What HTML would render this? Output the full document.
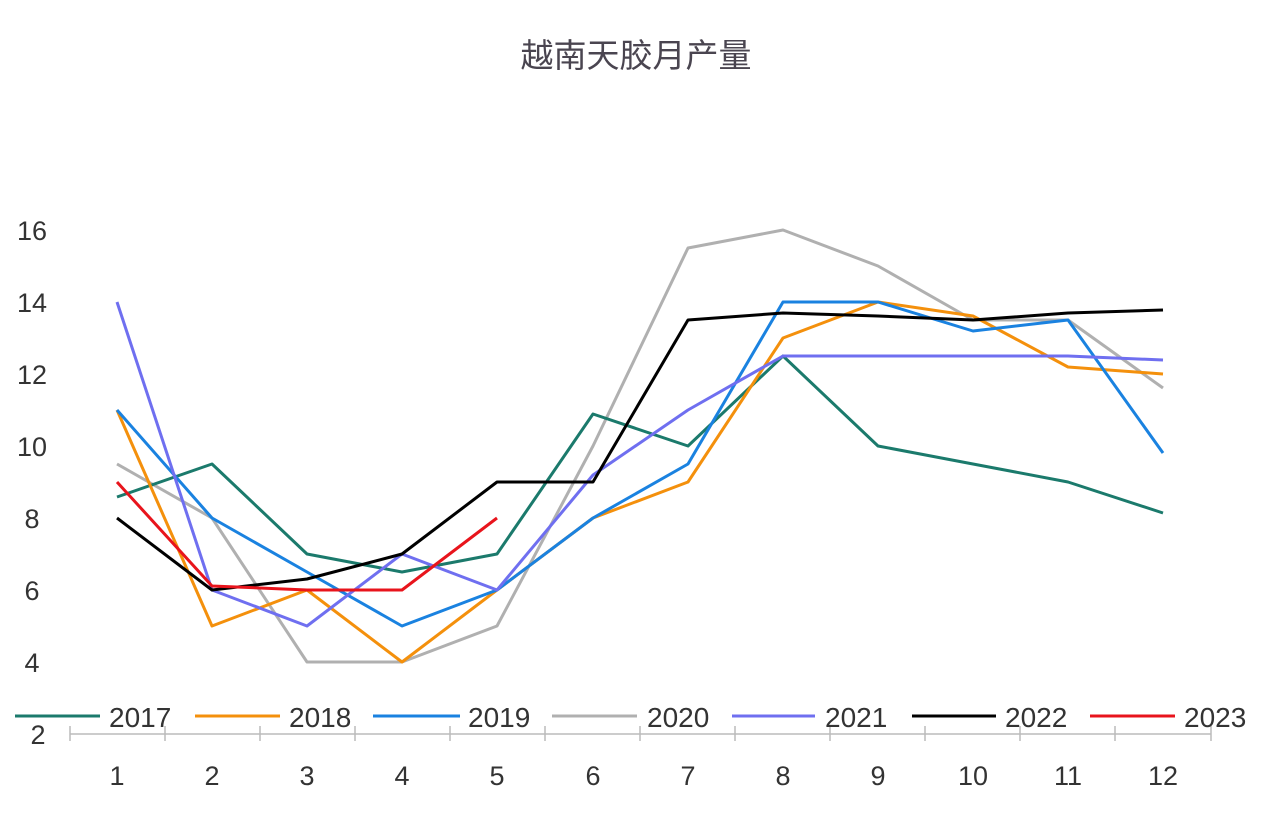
<!DOCTYPE html>
<html><head><meta charset="utf-8"><style>
body{margin:0;background:#fff}
svg text{font-family:"Liberation Sans","Noto Sans CJK SC",sans-serif}
</style></head><body>
<svg width="1272" height="810" viewBox="0 0 1272 810" xmlns="http://www.w3.org/2000/svg">
<rect width="1272" height="810" fill="#fff"/>
<text x="636" y="67" text-anchor="middle" font-size="33" fill="#4a4550">越南天胶月产量</text>
<g font-size="27" fill="#333" text-anchor="middle">
<text x="32" y="240">16</text><text x="32" y="312">14</text><text x="32" y="384">12</text>
<text x="32" y="456">10</text><text x="32" y="528">8</text><text x="32" y="600">6</text>
<text x="32" y="672">4</text><text x="38" y="744">2</text>
<text x="117" y="785">1</text><text x="212" y="785">2</text><text x="307" y="785">3</text>
<text x="402" y="785">4</text><text x="497" y="785">5</text><text x="593" y="785">6</text>
<text x="688" y="785">7</text><text x="783" y="785">8</text><text x="878" y="785">9</text>
<text x="973" y="785">10</text><text x="1068" y="785">11</text><text x="1163" y="785">12</text>
</g>
<g stroke="#bbb" stroke-width="1.5">
<line x1="70" y1="734" x2="1211" y2="734"/>
<line x1="70" y1="726" x2="70" y2="741"/><line x1="165" y1="726" x2="165" y2="741"/>
<line x1="260" y1="726" x2="260" y2="741"/><line x1="355" y1="726" x2="355" y2="741"/>
<line x1="450" y1="726" x2="450" y2="741"/><line x1="545" y1="726" x2="545" y2="741"/>
<line x1="640" y1="726" x2="640" y2="741"/><line x1="735" y1="726" x2="735" y2="741"/>
<line x1="830" y1="726" x2="830" y2="741"/><line x1="925" y1="726" x2="925" y2="741"/>
<line x1="1020" y1="726" x2="1020" y2="741"/><line x1="1115" y1="726" x2="1115" y2="741"/>
<line x1="1211" y1="726" x2="1211" y2="741"/>
</g>
<g fill="none" stroke-width="3" stroke-linejoin="round">
<polyline stroke="#b0b0b0" points="117,464 212,518 307,662 402,662 497,626 593,446 688,248 783,230 878,266 973,320 1068,320 1163,388"/>
<polyline stroke="#1b7a6c" points="117,497 212,464 307,554 402,572 497,554 593,414 688,446 783,356 878,446 973,464 1068,482 1163,513"/>
<polyline stroke="#f4900c" points="117,410 212,626 307,590 402,662 497,590 593,518 688,482 783,338 878,302 973,316 1068,367 1163,374"/>
<polyline stroke="#1a82e0" points="117,410 212,518 307,572 402,626 497,590 593,518 688,464 783,302 878,302 973,331 1068,320 1163,453"/>
<polyline stroke="#6f6ff0" points="117,302 212,590 307,626 402,554 497,590 593,475 688,410 783,356 878,356 973,356 1068,356 1163,360"/>
<polyline stroke="#000" points="117,518 212,590 307,579 402,554 497,482 593,482 688,320 783,313 878,316 973,320 1068,313 1163,310"/>
<polyline stroke="#e8141c" points="117,482 212,586 307,590 402,590 497,518"/>
</g>
<g stroke-width="3">
<line x1="15" y1="716" x2="100" y2="716" stroke="#1b7a6c"/>
<line x1="195" y1="716" x2="280" y2="716" stroke="#f4900c"/>
<line x1="373" y1="716" x2="460" y2="716" stroke="#1a82e0"/>
<line x1="552" y1="716" x2="637" y2="716" stroke="#b0b0b0"/>
<line x1="732" y1="716" x2="815" y2="716" stroke="#6f6ff0"/>
<line x1="912" y1="716" x2="996" y2="716" stroke="#000"/>
<line x1="1090" y1="716" x2="1175" y2="716" stroke="#e8141c"/>
</g>
<g font-size="28" fill="#333">
<text x="109" y="727">2017</text><text x="289" y="727">2018</text><text x="468" y="727">2019</text>
<text x="647" y="727">2020</text><text x="825" y="727">2021</text><text x="1005" y="727">2022</text>
<text x="1184" y="727">2023</text>
</g>
</svg>
</body></html>
